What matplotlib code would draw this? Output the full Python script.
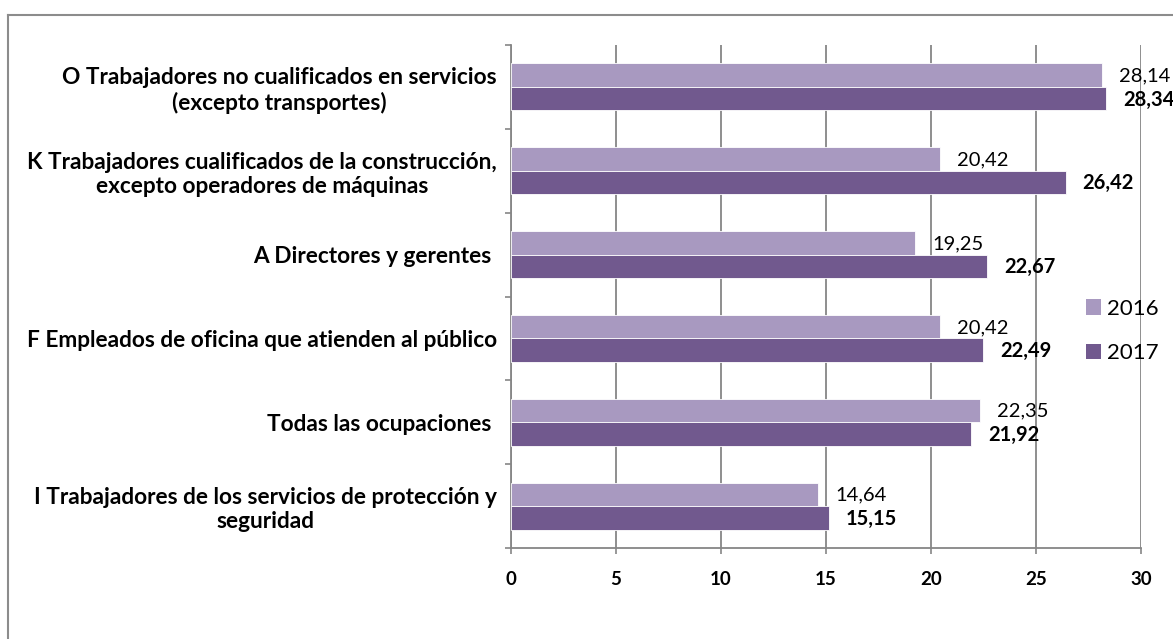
import numpy as np
import matplotlib.pyplot as plt
from matplotlib.lines import Line2D
from matplotlib.patches import Patch

plt.rcParams['font.family'] = ['Lato', 'DejaVu Sans']

categories = [
    'O Trabajadores no cualificados en servicios\n(excepto transportes)',
    'K Trabajadores cualificados de la construcción,\nexcepto operadores de máquinas',
    'A Directores y gerentes ',
    'F Empleados de oficina que atienden al público',
    'Todas las ocupaciones ',
    'I Trabajadores de los servicios de protección y\nseguridad',
]
values_2016 = [28.14, 20.42, 19.25, 20.42, 22.35, 14.64]
values_2017 = [28.34, 26.42, 22.67, 22.49, 21.92, 15.15]
x_ticks = [0, 5, 10, 15, 20, 25, 30]

c2016 = '#A899C0'
c2017 = '#71598E'
grid_c = '#868686'

fig = plt.figure(figsize=(11.73, 6.39), dpi=100)
ax = fig.add_axes([511 / 1173, 1 - 548 / 639, 630 / 1173, 503 / 639])

y = np.arange(len(categories))
h = 0.28
ax.barh(y - h / 2, values_2016, height=h, color=c2016, edgecolor='white', linewidth=0.6, zorder=3)
ax.barh(y + h / 2, values_2017, height=h, color=c2017, edgecolor='white', linewidth=0.6, zorder=3)

for yi, v in zip(y, values_2016):
    ax.text(v + 0.8, yi - h / 2 + 0.01, f'{v:.2f}'.replace('.', ','), va='center', ha='left',
            fontsize=14.5, color='black', clip_on=False)
for yi, v in zip(y, values_2017):
    ax.text(v + 0.8, yi + h / 2 + 0.01, f'{v:.2f}'.replace('.', ','), va='center', ha='left',
            fontsize=14.5, fontweight='bold', color='black', clip_on=False)

ax.set_xlim(0, 30)
ax.set_ylim(len(categories) - 0.5, -0.5)
ax.set_xticks(x_ticks)
ax.set_xticklabels([str(t) for t in x_ticks], fontsize=13.5, fontweight='bold')
ax.set_yticks(y)
ax.set_yticklabels(categories, fontsize=16.3, fontweight='bold', multialignment='center')
ax.set_yticks(np.arange(len(categories) + 1) - 0.5, minor=True)
ax.tick_params(axis='y', which='major', length=0, pad=10)
ax.tick_params(axis='y', which='minor', length=4.5, color=grid_c, width=1.2)
ax.tick_params(axis='x', which='major', length=4.5, color=grid_c, width=1.2, pad=12)

ax.grid(axis='x', color=grid_c, linewidth=1.3, zorder=0)
for s in ['top', 'right']:
    ax.spines[s].set_visible(False)
for s in ['left', 'bottom']:
    ax.spines[s].set_color(grid_c)
    ax.spines[s].set_linewidth(1.3)

handles = [Patch(facecolor=c2016, label='2016'), Patch(facecolor=c2017, label='2017')]
fig.legend(handles=handles, loc='center left', bbox_to_anchor=(1086 / 1173, 1 - 331 / 639),
           frameon=False, fontsize=16, handlelength=0.68, handleheight=0.68,
           handletextpad=0.27, labelspacing=1.1, borderpad=0, borderaxespad=0)

# outer chart frame (only left and top edges visible in the crop)
fig.add_artist(Line2D([8 / 1173, 8 / 1173], [0, 1 - 15 / 639], transform=fig.transFigure,
                      color='#8C8C8C', linewidth=1.5))
fig.add_artist(Line2D([8 / 1173, 1], [1 - 15 / 639, 1 - 15 / 639], transform=fig.transFigure,
                      color='#8C8C8C', linewidth=1.5))

fig.savefig('out.png', dpi=100)
